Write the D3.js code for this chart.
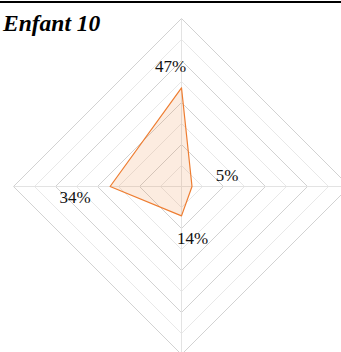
<!DOCTYPE html>
<html>
<head>
<meta charset="utf-8">
<script src="https://cdn.jsdelivr.net/npm/d3@7"></script>
<style>
  html, body { margin: 0; padding: 0; background: #fff; }
  svg { display: block; }
</style>
</head>
<body>
<script>
// Radar chart data: four axes, clockwise from the top
const axes = ["A", "B", "C", "D"];
const values = [47, 5, 14, 34];
const valueLabels = ["47%", "5%", "14%", "34%"];
const gridLevels = [10, 20, 30, 40, 50, 60, 70, 80];
const title = "Enfant 10";

const width = 341, height = 352;
const cx = 181.5, cy = 186.5, radius = 168;
const maxValue = 80;

const svg = d3.select("body").append("svg")
  .attr("width", width).attr("height", height);

// top rule
svg.append("line")
  .attr("x1", 0).attr("x2", width).attr("y1", 2).attr("y2", 2)
  .attr("stroke", "#000").attr("stroke-width", 2.2);

const r = d3.scaleLinear().domain([0, maxValue]).range([0, radius]);
const angle = d3.scalePoint().domain(axes).range([0, 2 * Math.PI * 3 / 4]);

const pt = (a, v) => [cx + r(v) * Math.sin(angle(a)), cy - r(v) * Math.cos(angle(a))];

const g = svg.append("g");

// diamond grid, alternating shades
gridLevels.forEach((lv, i) => {
  const pts = axes.map(a => pt(a, lv));
  g.append("polygon")
    .attr("points", pts.map(p => p.join(",")).join(" "))
    .attr("fill", "none")
    .attr("stroke", i % 2 === 1 ? "#d2d2d2" : "#e8e8e8")
    .attr("stroke-width", 1);
});

// spokes
axes.forEach(a => {
  const p = pt(a, maxValue);
  g.append("line")
    .attr("x1", cx).attr("y1", cy).attr("x2", p[0]).attr("y2", p[1])
    .attr("stroke", "#e3e3e3").attr("stroke-width", 1);
});

// series area
const line = d3.lineRadial()
  .angle((d, i) => angle(axes[i]))
  .radius(d => r(d))
  .curve(d3.curveLinearClosed);

g.append("path")
  .attr("transform", `translate(${cx},${cy})`)
  .attr("d", line(values))
  .attr("fill", "rgba(237,125,49,0.15)")
  .attr("stroke", "#ee7d31")
  .attr("stroke-width", 1.2)
  .attr("stroke-linejoin", "round");

// value labels, pushed outward and turned slightly counter-clockwise
axes.forEach((a, i) => {
  const th = angle(a);
  const ux = Math.sin(th), uy = -Math.cos(th);
  const px = -uy, py = ux;          // clockwise perpendicular
  const vertical = Math.abs(uy) > 0.5;
  const out = vertical ? 22 : 35;
  const side = -11;
  const base = pt(a, values[i]);
  svg.append("text")
    .attr("x", base[0] + ux * out + px * side)
    .attr("y", base[1] + uy * out + py * side)
    .attr("dy", "0.35em")
    .attr("text-anchor", "middle")
    .attr("font-family", "'Liberation Serif', 'Times New Roman', serif")
    .attr("font-size", 17)
    .attr("fill", "#111")
    .text(valueLabels[i]);
});

// title
svg.append("text")
  .attr("x", 3).attr("y", 30.5)
  .attr("font-family", "'Liberation Serif', 'Times New Roman', serif")
  .attr("font-weight", "bold")
  .attr("font-style", "italic")
  .attr("font-size", 23.5)
  .attr("fill", "#000")
  .text(title);
</script>
</body>
</html>
